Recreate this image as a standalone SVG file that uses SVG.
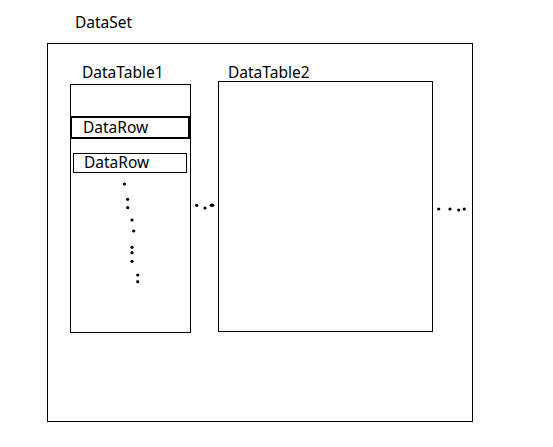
<svg xmlns="http://www.w3.org/2000/svg" width="553" height="447" viewBox="0 0 553 447">
<style>
.box{fill:none;stroke:#000;stroke-width:1}
.t{font-family:"Noto Sans","DejaVu Sans",sans-serif;font-size:15.5px;fill:#000}
.d{fill:#000}
</style>
<rect width="553" height="447" fill="#fff"/>
<g id="dataset">
<rect class="box" x="47.5" y="43.5" width="425" height="378"/>
<text class="t" x="75" y="28">DataSet</text>
</g>
<g id="datatable1">
<rect class="box" x="70.5" y="84.5" width="120" height="248"/>
<text class="t" x="82" y="78">DataTable1</text>
</g>
<g id="datarow1">
<rect class="box" x="71" y="117" width="118" height="21" style="stroke-width:2"/>
<text class="t" x="83" y="133">DataRow</text>
</g>
<g id="datarow2">
<rect class="box" x="73.5" y="153.5" width="113" height="19"/>
<text class="t" x="84" y="168">DataRow</text>
</g>
<g id="datatable2">
<rect class="box" x="218.5" y="81.5" width="214" height="250"/>
<text class="t" x="228" y="78">DataTable2</text>
</g>
<g id="connectors">
<g class="d">
<circle cx="124.5" cy="184" r="1.6"/>
<circle cx="127.7" cy="199.3" r="1.6"/>
<circle cx="127.7" cy="207.7" r="1.6"/>
<circle cx="132" cy="220" r="1.6"/>
<circle cx="133.7" cy="231" r="1.6"/>
<circle cx="132" cy="247.3" r="1.6"/>
<circle cx="132" cy="252.7" r="1.6"/>
<circle cx="132" cy="261.3" r="1.6"/>
<circle cx="137.7" cy="275" r="1.6"/>
<circle cx="137.7" cy="281.7" r="1.6"/>
<circle cx="196.7" cy="205.3" r="1.6"/>
<circle cx="205" cy="208" r="1.6"/>
<ellipse cx="212" cy="205.3" rx="2.4" ry="1.8"/>
<circle cx="438.7" cy="209" r="1.6"/>
<circle cx="450" cy="209" r="1.6"/>
<circle cx="458.7" cy="210" r="1.6"/>
<circle cx="464.3" cy="209" r="1.6"/>
</g>
</g>
</svg>
